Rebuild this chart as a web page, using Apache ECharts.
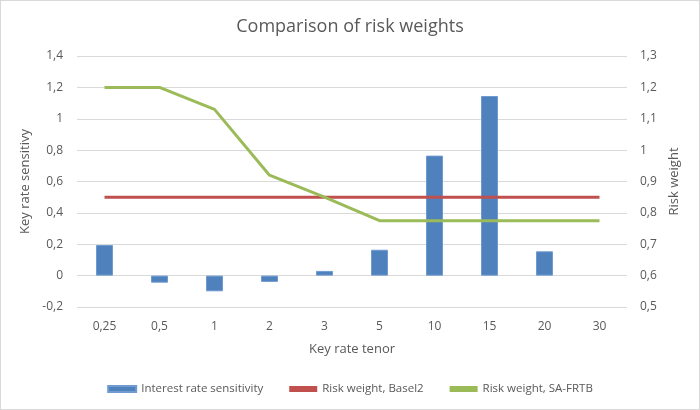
<!DOCTYPE html>
<html><head><meta charset="utf-8">
<script src="https://cdn.jsdelivr.net/npm/echarts@6/dist/echarts.min.js"></script>
<style>html,body{margin:0;padding:0;background:#fff}#c{width:698px;height:408px;border:1px solid #d9d9d9}</style>
</head><body><div id="c"></div>
<script>
const categories = ['0,25','0,5','1','2','3','5','10','15','20','30'];
const sensitivity = [0.195, -0.045, -0.10, -0.04, 0.03, 0.165, 0.765, 1.145, 0.155, null];
const basel2 = [0.85,0.85,0.85,0.85,0.85,0.85,0.85,0.85,0.85,0.85];
const saFrtb = [1.2, 1.2, 1.13, 0.92, 0.85, 0.775, 0.775, 0.775, 0.775, 0.775];
const fmt = v => String(Math.round(v*10)/10).replace('.', ',');
const font = 'Open Sans, Liberation Sans, sans-serif';
const chart = echarts.init(document.getElementById('c'));
chart.setOption({
  animation:false,
  textStyle:{fontFamily:font},
  title:{text:'Comparison of risk weights',left:'center',top:12,textStyle:{fontSize:18,fontWeight:'normal',color:'#595959',fontFamily:font}},
  grid:{left:76,right:72,top:55,bottom:102},
  legend:{bottom:9,left:'center',itemGap:26,itemWidth:28,itemHeight:6,textStyle:{color:'#595959',fontSize:11.5},
    data:[{name:'Interest rate sensitivity',icon:'rect'},{name:'Risk weight, Basel2',icon:'rect'},{name:'Risk weight, SA-FRTB',icon:'rect'}]},
  xAxis:{type:'category',data:categories,name:'Key rate tenor',nameLocation:'middle',nameGap:36,
    nameTextStyle:{color:'#595959',fontSize:13},
    axisLine:{show:false},axisTick:{show:false},axisLabel:{color:'#595959',fontSize:12,margin:14}},
  yAxis:[
    {type:'value',min:-0.2,max:1.4,interval:0.2,name:'Key rate sensitivy',nameLocation:'middle',nameGap:36,
      nameTextStyle:{color:'#595959',fontSize:13},
      axisLabel:{color:'#595959',fontSize:12,formatter:fmt,margin:14},
      splitLine:{lineStyle:{color:'#d9d9d9'}},axisLine:{show:false},axisTick:{show:false}},
    {type:'value',min:0.5,max:1.3,interval:0.1,name:'Risk weight',nameLocation:'middle',nameGap:38,
      nameTextStyle:{color:'#595959',fontSize:13},
      axisLabel:{color:'#595959',fontSize:12,formatter:fmt,margin:13},
      splitLine:{show:false},axisLine:{show:false},axisTick:{show:false}}
  ],
  series:[
    {name:'Interest rate sensitivity',type:'bar',data:sensitivity,barWidth:17,
      itemStyle:{color:'#4f81bd',borderColor:'#6f9bd1',borderWidth:1}},
    {name:'Risk weight, Basel2',type:'line',yAxisIndex:1,data:basel2,symbol:'none',
      lineStyle:{color:'#c0504d',width:3},itemStyle:{color:'#c0504d'}},
    {name:'Risk weight, SA-FRTB',type:'line',yAxisIndex:1,data:saFrtb,symbol:'none',
      lineStyle:{color:'#9bbb59',width:3},itemStyle:{color:'#9bbb59'}}
  ]
});
</script></body></html>
